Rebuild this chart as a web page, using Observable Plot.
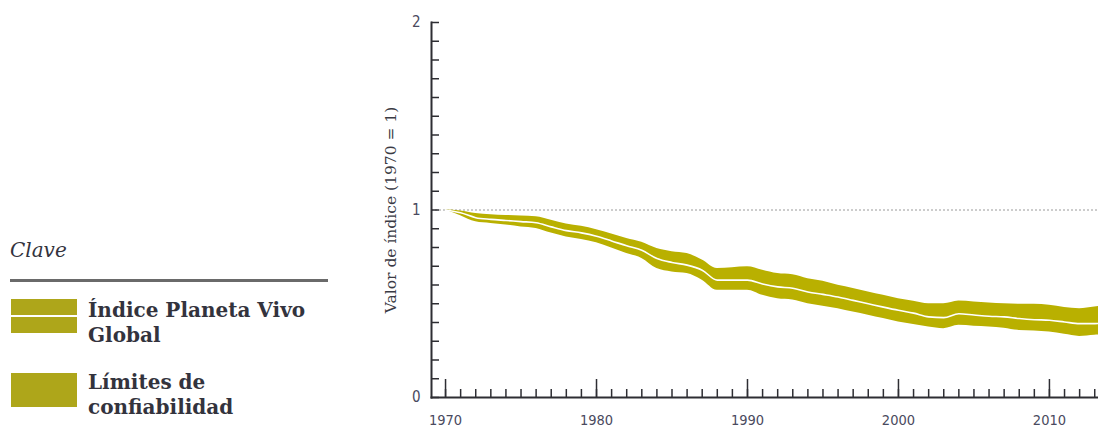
<!DOCTYPE html>
<html>
<head>
<meta charset="utf-8">
<script src="https://cdn.jsdelivr.net/npm/d3@7"></script>
<script src="https://cdn.jsdelivr.net/npm/@observablehq/plot@0.6"></script>
<style>
  html, body { margin: 0; padding: 0; background: #fff; }
  #wrap { position: relative; width: 1098px; height: 430px; overflow: hidden; }
  #legend { position: absolute; left: 10px; top: 0; width: 320px; font-family: Georgia, "DejaVu Serif", "Liberation Serif", serif; color: #33333d; }
  #legend .title { position: absolute; left: 0; top: 238px; font-style: italic; font-size: 20px; }
  #legend .rule { position: absolute; left: 0; top: 279px; width: 318px; height: 3px; background: #6a6a6a; }
  #legend .sw { position: absolute; left: 1px; width: 66px; height: 34px; background: #aea61a; }
  #legend .sw .wl { position: absolute; left: 0; right: 0; top: 16px; height: 2px; background: #fff; }
  #legend .lab { position: absolute; left: 78px; font-size: 20px; font-weight: bold; line-height: 25px; }
</style>
</head>
<body>
<div id="wrap">
  <div id="chart"></div>
  <div id="legend"></div>
</div>
<script>
// ---- data ----
const years = [1970,1971,1972,1973,1974,1975,1976,1977,1978,1979,
  1980,1981,1982,1983,1984,1985,1986,1987,1988,1989,
  1990,1991,1992,1993,1994,1995,1996,1997,1998,1999,
  2000,2001,2002,2003,2004,2005,2006,2007,2008,2009,
  2010,2011,2012,2013,2014];
const indexMid = [1.000,0.985,0.959,0.950,0.944,0.938,0.932,0.910,0.890,0.878,
  0.860,0.835,0.809,0.785,0.741,0.720,0.706,0.679,0.626,0.626,
  0.626,0.605,0.590,0.583,0.563,0.550,0.536,0.518,0.500,0.482,
  0.465,0.450,0.430,0.426,0.447,0.440,0.433,0.430,0.421,0.415,
  0.412,0.403,0.394,0.394,0.400];
const indexHigh = [1.000,0.995,0.981,0.975,0.971,0.968,0.964,0.945,0.925,0.913,
  0.895,0.872,0.848,0.828,0.795,0.778,0.768,0.733,0.688,0.692,
  0.697,0.679,0.661,0.655,0.634,0.620,0.599,0.582,0.563,0.545,
  0.527,0.513,0.500,0.500,0.515,0.510,0.504,0.500,0.497,0.497,
  0.492,0.480,0.474,0.483,0.490];
const indexLow = [1.000,0.970,0.937,0.928,0.920,0.910,0.902,0.877,0.856,0.843,
  0.825,0.797,0.768,0.742,0.688,0.670,0.661,0.626,0.572,0.572,
  0.572,0.545,0.527,0.520,0.500,0.487,0.474,0.456,0.439,0.421,
  0.403,0.390,0.376,0.367,0.385,0.380,0.376,0.370,0.358,0.355,
  0.349,0.337,0.326,0.332,0.335];
const baseline = 1;
const xTicksMajor = [1970,1980,1990,2000,2010];
const xTicksMinor = d3.range(1970, 2014);
const yTicksMajor = [0,1,2];
const yTicksMinor = d3.range(0, 21).map(i => i / 10);
const yLabel = "Valor de índice (1970 = 1)";
const legendTitle = "Clave";
const legendItems = ["Índice Planeta Vivo<br>Global", "Límites de<br>confiabilidad"];

const data = years.map((y, i) => ({year: y, mid: indexMid[i], hi: indexHigh[i], lo: indexLow[i]}));

const bandColor = "#b9b000";
const axisColor = "#2e2e33";
const textColor = "#4a4a5e";
const narrow = "'Liberation Sans Narrow', 'DejaVu Sans Condensed', 'Roboto Condensed', sans-serif";
const serif = "Georgia, 'DejaVu Serif', 'Liberation Serif', serif";

const chart = Plot.plot({
  width: 1098,
  height: 430,
  marginLeft: 431,
  marginRight: 0,
  marginTop: 22,
  marginBottom: 33,
  style: {fontFamily: narrow},
  x: {domain: [1969.07, 2013.25], label: null},
  y: {domain: [0, 2], label: null},
  marks: [
    Plot.ruleY([baseline], {stroke: "#9a9a9a", strokeDasharray: "2,2", strokeWidth: 1}),
    Plot.areaY(data, {x: "year", y1: "lo", y2: "hi", fill: bandColor, curve: "monotone-x", clip: true}),
    Plot.line(data, {x: "year", y: "mid", stroke: "#fff", strokeWidth: 1.6, curve: "monotone-x", clip: true}),
    Plot.axisX({ticks: xTicksMinor, tickSize: -8, tickFormat: () => "", stroke: axisColor, strokeWidth: 1.5, label: null}),
    Plot.axisX({ticks: xTicksMajor, tickSize: -18, tickFormat: () => "", stroke: axisColor, strokeWidth: 1.5, label: null}),
    Plot.axisX({ticks: xTicksMajor, tickSize: 0, tickPadding: 17, tickFormat: d => String(d), fill: textColor, fontSize: 14.5, fontFamily: narrow, label: null}),
    Plot.axisY({ticks: yTicksMinor, tickSize: -8, tickFormat: () => "", stroke: axisColor, strokeWidth: 1.5, label: null}),
    Plot.axisY({ticks: yTicksMajor, tickSize: 0, tickPadding: 11, tickFormat: d => String(d), fill: textColor, fontSize: 15, fontFamily: narrow, label: null}),
    Plot.frame({anchor: "left", stroke: axisColor, strokeWidth: 2}),
    Plot.frame({anchor: "bottom", stroke: axisColor, strokeWidth: 2}),
    Plot.text([yLabel], {frameAnchor: "left", textAnchor: "middle", dx: -40, rotate: -90, fontSize: 15.5, fill: "#3a3a44", fontFamily: serif})
  ]
});
document.getElementById("chart").appendChild(chart);

const lg = document.getElementById("legend");
lg.innerHTML = `
  <div class="title">${legendTitle}</div>
  <div class="rule"></div>
  <div class="sw" style="top:299px"><div class="wl"></div></div>
  <div class="lab" style="top:298px">${legendItems[0]}</div>
  <div class="sw" style="top:373px"></div>
  <div class="lab" style="top:370px">${legendItems[1]}</div>
`;
</script>
</body>
</html>
